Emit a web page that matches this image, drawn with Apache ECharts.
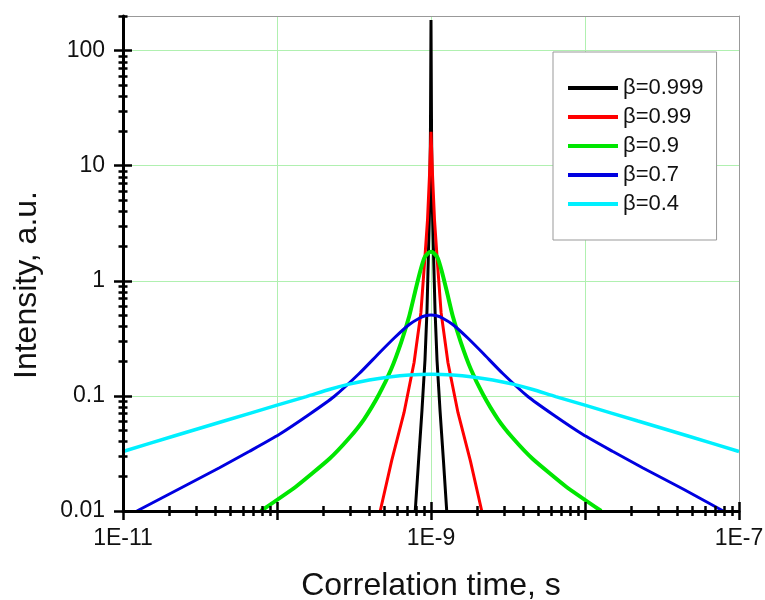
<!DOCTYPE html>
<html><head><meta charset="utf-8">
<script src="https://cdn.jsdelivr.net/npm/echarts@6/dist/echarts.min.js"></script>
<style>html,body{margin:0;padding:0;background:#fff}#c{width:765px;height:600px}</style>
</head><body><div id="c"></div>
<script>
// ---- data ----
const seriesNames = ['β=0.999', 'β=0.99', 'β=0.9', 'β=0.7', 'β=0.4'];

const tau999 = [7.90e-10, 8.31e-10, 8.74e-10, 9.14e-10, 9.42e-10, 9.60e-10, 9.82e-10, 9.92e-10, 1.0e-9,
                1.008e-9, 1.018e-9, 1.041e-9, 1.062e-9, 1.094e-9, 1.144e-9, 1.204e-9, 1.265e-9];
const int999 = [0.01, 0.0277, 0.0754, 0.205, 0.557, 1.516, 5.04, 20.4, 184.5,
                20.4, 5.04, 1.516, 0.557, 0.205, 0.0754, 0.0277, 0.01];

const tau99 = [4.68e-10, 5.55e-10, 6.68e-10, 7.76e-10, 8.60e-10, 9.08e-10, 9.49e-10, 9.78e-10, 1.0e-9,
               1.023e-9, 1.054e-9, 1.101e-9, 1.163e-9, 1.289e-9, 1.497e-9, 1.802e-9, 2.136e-9];
const int99 = [0.01, 0.0273, 0.0714, 0.194, 0.529, 1.44, 3.37, 8.30, 19.74,
               8.30, 3.37, 1.44, 0.529, 0.194, 0.0714, 0.0273, 0.01];

const tau9 = [7.847e-11, 1.325e-10, 2.182e-10, 2.943e-10, 3.683e-10, 4.611e-10, 5.519e-10, 6.409e-10, 7.226e-10,
              7.904e-10, 8.519e-10, 9.045e-10, 9.532e-10, 1.0e-9,
              1.0491e-9, 1.1056e-9, 1.1738e-9, 1.2652e-9, 1.3839e-9, 1.5603e-9, 1.8119e-9, 2.1687e-9,
              2.7152e-9, 3.3979e-9, 4.583e-9, 7.547e-9, 1.2744e-8];
const int9 = [0.01, 0.01625, 0.0283, 0.04307, 0.06299, 0.1039, 0.1713, 0.2939, 0.4945,
              0.8153, 1.216, 1.578, 1.727, 1.789,
              1.727, 1.578, 1.216, 0.8153, 0.4945, 0.2939, 0.1713, 0.1039,
              0.06299, 0.04307, 0.0283, 0.01625, 0.01];

const tau7 = [1.231e-11, 2.309e-11, 4.202e-11, 6.585e-11, 1.032e-10, 1.617e-10, 2.350e-10, 3.419e-10, 4.611e-10,
              5.772e-10, 7.226e-10, 8.393e-10, 9.182e-10, 1.0e-9,
              1.0891e-9, 1.1915e-9, 1.3839e-9, 1.7326e-9, 2.1687e-9, 2.9249e-9, 4.2546e-9, 6.1839e-9,
              9.690e-9, 1.5186e-8, 2.3798e-8, 4.331e-8, 7.90e-8];
const int7 = [0.01, 0.01553, 0.02364, 0.03288, 0.04619, 0.06894, 0.0988, 0.1565, 0.2359,
              0.3184, 0.4171, 0.4733, 0.4966, 0.5045,
              0.4966, 0.4733, 0.4171, 0.3184, 0.2359, 0.1565, 0.0988, 0.06894,
              0.04619, 0.03288, 0.02364, 0.01553, 0.01];

const tau4 = [1.0e-11, 2.143e-11, 4.530e-11, 1.002e-10, 1.55e-10, 2.182e-10, 2.943e-10, 3.972e-10, 5.357e-10, 7.226e-10, 1.0e-9,
              1.3839e-9, 1.8667e-9, 2.5176e-9, 3.3979e-9, 4.583e-9, 6.45e-9, 9.98e-9, 2.207e-8, 4.666e-8, 1.0e-7];
const int4 = [0.03288, 0.04484, 0.0605, 0.0832, 0.0985, 0.1137, 0.1266, 0.1377, 0.1462, 0.1519, 0.1541,
              0.1519, 0.1462, 0.1377, 0.1266, 0.1137, 0.0985, 0.0832, 0.0605, 0.04484, 0.03288];

const xMajorTicks = [1e-11, 1e-10, 1e-9, 1e-8, 1e-7];
const xTickLabels = [1e-11, 1e-9, 1e-7];
const yMajorTicks = [0.01, 0.1, 1, 10, 100];
const yTickLabels = [0.01, 0.1, 1, 10, 100];
const multipliers = [2, 3, 4, 5, 6, 7, 8, 9];

// ---- build ----
const xMinorTicks = [];
[1e-11, 1e-10, 1e-9, 1e-8].forEach(d => multipliers.forEach(m => xMinorTicks.push(Number((m * d).toPrecision(3)))));
const yMinorTicks = [];
[0.01, 0.1, 1, 10].forEach(d => multipliers.forEach(m => yMinorTicks.push(Number((m * d).toPrecision(3)))));
yMinorTicks.push(200);

const FONT = 'Liberation Sans, Arial, Helvetica, sans-serif';
const colors = ['#000000', '#ff0000', '#00e600', '#0000e0', '#00f0ff'];
const widths = [3, 3, 4, 3, 3.5];
const smooths = [false, false, 0.15, 0.2, 0.2];
const taus = [tau999, tau99, tau9, tau7, tau4];
const ints = [int999, int99, int9, int7, int4];

const XMIN = 1e-11, XMAX = 1e-7, YMIN = 0.01, YMAX = 200;
const GRIDGREEN = '#b0f0b0';

function baseX(extra) {
  return Object.assign({
    type: 'log', logBase: 10, min: XMIN, max: XMAX, position: 'bottom', z: 3,
    axisLine: {show: false, onZero: false}, axisTick: {show: false},
    axisLabel: {show: false}, splitLine: {show: false}, minorTick: {show: false}
  }, extra);
}
function baseY(extra) {
  return Object.assign({
    type: 'log', logBase: 10, min: YMIN, max: YMAX, position: 'left', z: 3,
    axisLine: {show: false, onZero: false}, axisTick: {show: false},
    axisLabel: {show: false}, splitLine: {show: false}, minorTick: {show: false}
  }, extra);
}
const fmt = v => Number(Number(v).toPrecision(6)).toString();
const fmtX = v => '1E' + Math.round(Math.log10(v));

const xAxes = [
  baseX({
    axisLine: {show: true, onZero: false, lineStyle: {color: '#000', width: 3}},
    axisTick: {show: true, customValues: xMajorTicks, inside: false, length: 9, lineStyle: {color: '#000', width: 2.5}},
    axisLabel: {show: true, customValues: xTickLabels, formatter: fmtX, margin: 16, fontSize: 23, color: '#111', fontFamily: FONT},
    name: 'Correlation time, s', nameLocation: 'middle', nameGap: 59,
    nameTextStyle: {fontSize: 32, color: '#111', fontFamily: FONT}
  }),
  baseX({axisTick: {show: true, customValues: xMajorTicks, inside: true, length: 9, lineStyle: {color: '#000', width: 2.5}}}),
  baseX({axisTick: {show: true, customValues: xMinorTicks, inside: false, length: 5, lineStyle: {color: '#000', width: 2.5}}}),
  baseX({axisTick: {show: true, customValues: xMinorTicks, inside: true, length: 5, lineStyle: {color: '#000', width: 2.5}}}),
  baseX({position: 'top', z: 1, axisLine: {show: true, onZero: false, lineStyle: {color: '#999', width: 1}}}),
  baseX({z: 0, splitLine: {show: true, lineStyle: {color: GRIDGREEN, width: 1}}})
];
const yAxes = [
  baseY({
    axisLine: {show: true, onZero: false, lineStyle: {color: '#000', width: 3}},
    axisTick: {show: true, customValues: yMajorTicks, inside: false, length: 9, lineStyle: {color: '#000', width: 2.5}},
    axisLabel: {show: true, customValues: yTickLabels, formatter: fmt, margin: 18, fontSize: 23, color: '#111', fontFamily: FONT}
  }),
  baseY({axisTick: {show: true, customValues: yMajorTicks, inside: true, length: 9, lineStyle: {color: '#000', width: 2.5}}}),
  baseY({axisTick: {show: true, customValues: yMinorTicks, inside: false, length: 4.5, lineStyle: {color: '#000', width: 2.5}}}),
  baseY({axisTick: {show: true, customValues: yMinorTicks, inside: true, length: 4.5, lineStyle: {color: '#000', width: 2.5}}}),
  baseY({position: 'right', z: 1, axisLine: {show: true, onZero: false, lineStyle: {color: '#999', width: 1}}}),
  baseY({z: 0, splitLine: {show: true, lineStyle: {color: GRIDGREEN, width: 1}}})
];

const series = seriesNames.map((n, i) => ({
  name: n, type: 'line', xAxisIndex: 0, yAxisIndex: 0,
  data: taus[i].map((t, k) => [t, ints[i][k]]),
  symbol: 'none', smooth: smooths[i], z: 2,
  lineStyle: {color: colors[i], width: widths[i]},
  itemStyle: {color: colors[i]}
}));

const chart = echarts.init(document.getElementById('c'), null, {renderer: 'canvas'});
chart.setOption({
  animation: false,
  backgroundColor: '#fff',
  grid: {left: 123, right: 26, top: 16, bottom: 89, containLabel: false, outerBoundsMode: 'none'},
  xAxis: xAxes,
  yAxis: yAxes,
  legend: {
    data: seriesNames, orient: 'vertical', left: 553, top: 52,
    padding: [25, 13, 25, 15], itemGap: 7, itemWidth: 50, itemHeight: 4, icon: 'rect',
    backgroundColor: '#fff', borderColor: '#999', borderWidth: 1, borderRadius: 0,
    textStyle: {fontSize: 22, color: '#111', fontFamily: FONT},
    selectedMode: false
  },
  graphic: [{
    type: 'text', x: 27, y: 285, rotation: Math.PI / 2,
    style: {text: 'Intensity, a.u.', fontSize: 32, fontFamily: FONT, fill: '#111', align: 'center', verticalAlign: 'middle'}
  }],
  series: series
});
</script></body></html>
